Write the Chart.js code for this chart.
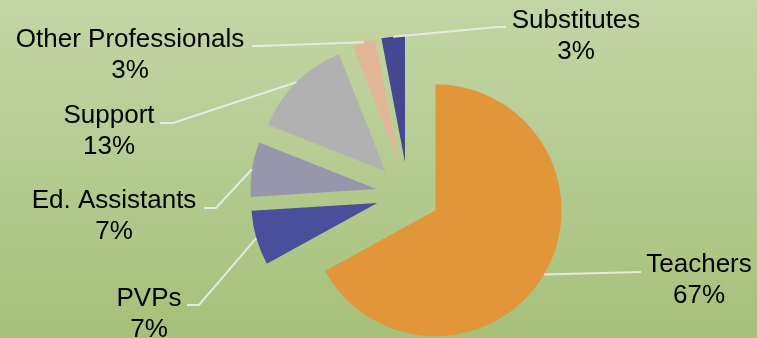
<!DOCTYPE html>
<html>
<head>
<meta charset="utf-8">
<script src="https://cdn.jsdelivr.net/npm/chart.js@4"></script>
<style>
  html, body { margin: 0; padding: 0; background: #b4cb8e; }
  canvas { display: block; }
</style>
</head>
<body>
<canvas id="staff" width="757" height="338"></canvas>
<script>
// Staff composition by role (percent of total)
const categories = ['Teachers', 'PVPs', 'Ed. Assistants', 'Support', 'Other Professionals', 'Substitutes'];
const shares = [67, 7, 7, 13, 3, 3];
const sliceColors = ['#E09639', '#4A4F9B', '#9796AC', '#B1B1B1', '#E1B698', '#434891'];

// Where each label sits: text centre x, first-line baseline y,
// plus the elbow and end of its leader line.
const labelLayout = [
  { x: 699, y: 272, elbow: [641, 272], end: [641, 272] },
  { x: 149, y: 306, elbow: [199, 305], end: [187, 305] },
  { x: 114, y: 208, elbow: [216, 208], end: [204, 208] },
  { x: 109, y: 123, elbow: [173, 123], end: [160, 123] },
  { x: 130, y: 47,  elbow: [258, 46],  end: [252, 46] },
  { x: 576, y: 28,  elbow: [497, 27],  end: [506, 27] }
];

const EXPLODE = 32;       // distance each slice is pulled out from the centre
const LINE_HEIGHT = 31;

const backgroundPlugin = {
  id: 'greenBackground',
  beforeDraw(chart) {
    const { ctx, width, height } = chart;
    const g = ctx.createLinearGradient(0, 0, 0, height);
    g.addColorStop(0, '#C3D6A6');
    g.addColorStop(1, '#A6C07A');
    ctx.save();
    ctx.fillStyle = g;
    ctx.fillRect(0, 0, width, height);
    ctx.restore();
  }
};

function sliceShift(arc) {
  const mid = (arc.startAngle + arc.endAngle) / 2;
  return { mid, dx: Math.cos(mid) * EXPLODE, dy: Math.sin(mid) * EXPLODE };
}

// Draw every slice pulled out along its own bisector.
const explodePlugin = {
  id: 'explodedSlices',
  beforeDatasetDraw(chart, args) {
    const ctx = chart.ctx;
    args.meta.data.forEach((arc) => {
      const s = sliceShift(arc);
      ctx.save();
      ctx.translate(s.dx, s.dy);
      arc.draw(ctx);
      ctx.restore();
    });
    return false;
  }
};

const labelPlugin = {
  id: 'sliceLabels',
  afterDraw(chart) {
    const ctx = chart.ctx;
    const meta = chart.getDatasetMeta(0);
    const total = shares.reduce((a, b) => a + b, 0);
    ctx.save();
    meta.data.forEach((arc, i) => {
      const s = sliceShift(arc);
      const r = arc.outerRadius;
      const sx = arc.x + s.dx + Math.cos(s.mid) * r;
      const sy = arc.y + s.dy + Math.sin(s.mid) * r;
      const L = labelLayout[i];
      ctx.beginPath();
      ctx.moveTo(sx, sy);
      ctx.lineTo(L.elbow[0], L.elbow[1]);
      ctx.lineTo(L.end[0], L.end[1]);
      ctx.strokeStyle = '#E6E8E2';
      ctx.lineWidth = 2;
      ctx.lineJoin = 'miter';
      ctx.stroke();

      ctx.fillStyle = '#000000';
      ctx.font = '26px "Liberation Sans", Arial, sans-serif';
      ctx.textAlign = 'center';
      ctx.textBaseline = 'alphabetic';
      ctx.fillText(categories[i], L.x, L.y);
      ctx.fillText(Math.round(shares[i] / total * 100) + '%', L.x, L.y + LINE_HEIGHT);
    });
    ctx.restore();
  }
};

new Chart(document.getElementById('staff'), {
  type: 'pie',
  data: {
    labels: categories,
    datasets: [{
      data: shares,
      backgroundColor: sliceColors,
      borderWidth: 0,
      radius: 126
    }]
  },
  options: {
    responsive: false,
    devicePixelRatio: 1,
    animation: false,
    layout: { padding: { left: 59, right: 0, top: 50, bottom: 0 } },
    plugins: {
      legend: { display: false },
      tooltip: { enabled: false }
    }
  },
  plugins: [backgroundPlugin, explodePlugin, labelPlugin]
});
</script>
</body>
</html>
